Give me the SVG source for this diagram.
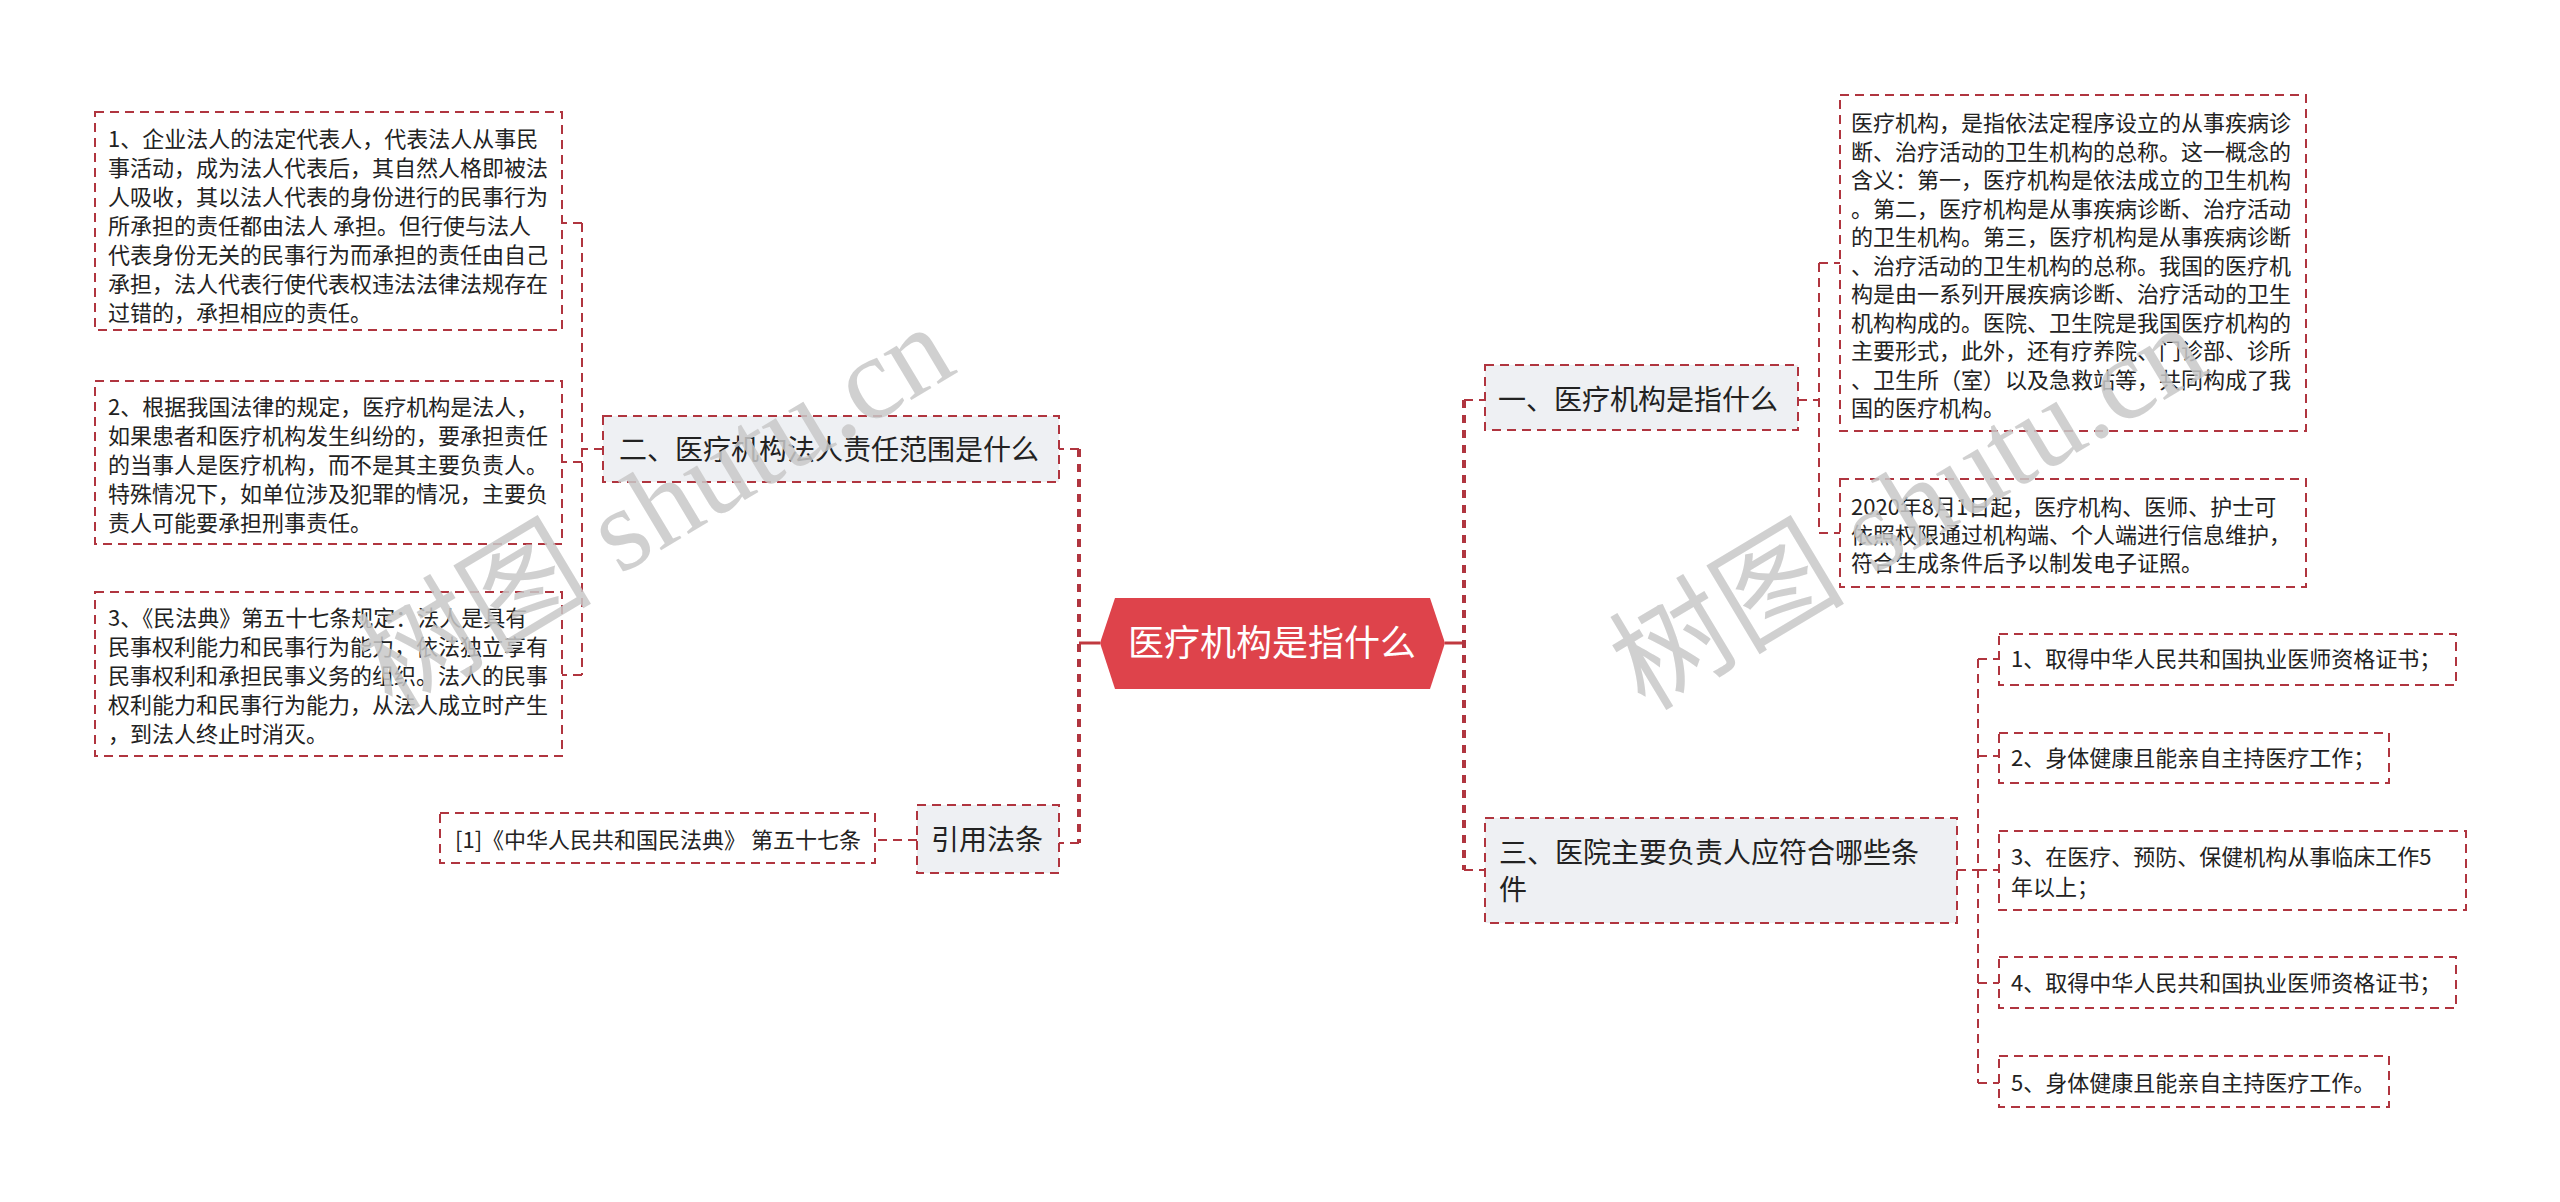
<svg xmlns="http://www.w3.org/2000/svg" width="2560" height="1202" viewBox="0 0 2560 1202">
<style>
.leaf{fill:#ffffff;stroke:#b0353f;stroke-width:2;stroke-dasharray:9 6}
.branch{fill:#eef0f3;stroke:#b0353f;stroke-width:2;stroke-dasharray:9 6}
.t{font-family:"Noto Sans CJK SC","Noto Sans",sans-serif;fill:#222222}
.lt{font-size:22px}
.bt{font-size:28px}
.ct{font-size:36px;fill:#ffffff}
.c{fill:none;stroke:#b0353f;stroke-width:2;stroke-dasharray:9 6}
.trunk{fill:none;stroke:#b0353f;stroke-width:4;stroke-dasharray:8 7}
.solid{fill:none;stroke:#c0393f;stroke-width:3}
.wm{font-family:"Liberation Serif","Noto Sans CJK SC",serif;font-size:118px;fill:#c8c8c8;fill-opacity:0.85}
</style>
<rect width="2560" height="1202" fill="#ffffff"/>
<g id="connectors">
<path class="solid" d="M1100 643H1079"/>
<path class="trunk" d="M1079 449V843"/>
<path class="c" d="M1079 449H1059M1079 843H1059"/>
<path class="c" d="M603 449H582M582 223V675M582 223H562M582 462H562M582 675H562"/>
<path class="c" d="M917 840H875"/>
<path class="solid" d="M1445 643H1464"/>
<path class="trunk" d="M1464 400V870"/>
<path class="c" d="M1464 400H1485M1464 870H1485"/>
<path class="c" d="M1798 400H1819M1819 263V533M1819 263H1840M1819 533H1840"/>
<path class="c" d="M1957 870H1978M1978 659V1083M1978 659H1999M1978 756H1999M1978 870H1999M1978 983H1999M1978 1083H1999"/>
</g>
<g id="center">
<polygon points="1115,598 1430,598 1445,643 1430,689 1115,689 1100,643" fill="#de434b"/>
<text class="t ct" x="1272" y="656" text-anchor="middle">医疗机构是指什么</text>
</g>
<g id="b2">
<rect class="branch" x="603" y="416" width="456" height="66"/>
<text class="t bt" x="619" y="460">二、医疗机构法人责任范围是什么</text>
</g>
<g id="b2-leaf1">
<rect class="leaf" x="95" y="112" width="467" height="218"/>
<text class="t lt" x="108" y="147">1、企业法人的法定代表人，代表法人从事民</text>
<text class="t lt" x="108" y="176">事活动，成为法人代表后，其自然人格即被法</text>
<text class="t lt" x="108" y="205">人吸收，其以法人代表的身份进行的民事行为</text>
<text class="t lt" x="108" y="234">所承担的责任都由法人 承担。但行使与法人</text>
<text class="t lt" x="108" y="263">代表身份无关的民事行为而承担的责任由自己</text>
<text class="t lt" x="108" y="292">承担，法人代表行使代表权违法法律法规存在</text>
<text class="t lt" x="108" y="321">过错的，承担相应的责任。</text>
</g>
<g id="b2-leaf2">
<rect class="leaf" x="95" y="381" width="467" height="163"/>
<text class="t lt" x="108" y="415">2、根据我国法律的规定，医疗机构是法人，</text>
<text class="t lt" x="108" y="444">如果患者和医疗机构发生纠纷的，要承担责任</text>
<text class="t lt" x="108" y="473">的当事人是医疗机构，而不是其主要负责人。</text>
<text class="t lt" x="108" y="502">特殊情况下，如单位涉及犯罪的情况，主要负</text>
<text class="t lt" x="108" y="531">责人可能要承担刑事责任。</text>
</g>
<g id="b2-leaf3">
<rect class="leaf" x="95" y="592" width="467" height="164"/>
<text class="t lt" x="108" y="626">3、《民法典》第五十七条规定：法人是具有</text>
<text class="t lt" x="108" y="655">民事权利能力和民事行为能力，依法独立享有</text>
<text class="t lt" x="108" y="684">民事权利和承担民事义务的组织。法人的民事</text>
<text class="t lt" x="108" y="713">权利能力和民事行为能力，从法人成立时产生</text>
<text class="t lt" x="108" y="742">，到法人终止时消灭。</text>
</g>
<g id="ref">
<rect class="branch" x="917" y="805" width="142" height="68"/>
<text class="t bt" x="931" y="850">引用法条</text>
</g>
<g id="ref-leaf">
<rect class="leaf" x="440" y="813" width="435" height="50"/>
<text class="t lt" x="455" y="848">[1]《中华人民共和国民法典》 第五十七条</text>
</g>
<g id="b1">
<rect class="branch" x="1485" y="365" width="313" height="65"/>
<text class="t bt" x="1498" y="410">一、医疗机构是指什么</text>
</g>
<g id="b1-leaf1">
<rect class="leaf" x="1840" y="95" width="466" height="336"/>
<text class="t lt" x="1851" y="131">医疗机构，是指依法定程序设立的从事疾病诊</text>
<text class="t lt" x="1851" y="159.5">断、治疗活动的卫生机构的总称。这一概念的</text>
<text class="t lt" x="1851" y="188">含义：第一，医疗机构是依法成立的卫生机构</text>
<text class="t lt" x="1851" y="216.5">。第二，医疗机构是从事疾病诊断、治疗活动</text>
<text class="t lt" x="1851" y="245">的卫生机构。第三，医疗机构是从事疾病诊断</text>
<text class="t lt" x="1851" y="273.5">、治疗活动的卫生机构的总称。我国的医疗机</text>
<text class="t lt" x="1851" y="302">构是由一系列开展疾病诊断、治疗活动的卫生</text>
<text class="t lt" x="1851" y="330.5">机构构成的。医院、卫生院是我国医疗机构的</text>
<text class="t lt" x="1851" y="359">主要形式，此外，还有疗养院、门诊部、诊所</text>
<text class="t lt" x="1851" y="387.5">、卫生所（室）以及急救站等，共同构成了我</text>
<text class="t lt" x="1851" y="416">国的医疗机构。</text>
</g>
<g id="b1-leaf2">
<rect class="leaf" x="1840" y="479" width="466" height="108"/>
<text class="t lt" x="1851" y="515">2020年8月1日起，医疗机构、医师、护士可</text>
<text class="t lt" x="1851" y="543">依照权限通过机构端、个人端进行信息维护，</text>
<text class="t lt" x="1851" y="571">符合生成条件后予以制发电子证照。</text>
</g>
<g id="b3">
<rect class="branch" x="1485" y="818" width="472" height="105"/>
<text class="t bt" x="1499" y="863">三、医院主要负责人应符合哪些条</text>
<text class="t bt" x="1499" y="900">件</text>
</g>
<g id="b3-leaf1">
<rect class="leaf" x="1999" y="634" width="457" height="51"/>
<text class="t lt" x="2011" y="667">1、取得中华人民共和国执业医师资格证书；</text>
</g>
<g id="b3-leaf2">
<rect class="leaf" x="1999" y="733" width="390" height="50"/>
<text class="t lt" x="2011" y="766">2、身体健康且能亲自主持医疗工作；</text>
</g>
<g id="b3-leaf3">
<rect class="leaf" x="1999" y="831" width="467" height="79"/>
<text class="t lt" x="2011" y="865">3、在医疗、预防、保健机构从事临床工作5</text>
<text class="t lt" x="2011" y="895">年以上；</text>
</g>
<g id="b3-leaf4">
<rect class="leaf" x="1999" y="957" width="457" height="51"/>
<text class="t lt" x="2011" y="991">4、取得中华人民共和国执业医师资格证书；</text>
</g>
<g id="b3-leaf5">
<rect class="leaf" x="1999" y="1056" width="390" height="51"/>
<text class="t lt" x="2011" y="1091">5、身体健康且能亲自主持医疗工作。</text>
</g>
<g id="watermark">
<text class="wm" x="392" y="712" transform="rotate(-31 392 712)">树图 shutu.cn</text>
<text class="wm" x="1645" y="712" transform="rotate(-31 1645 712)">树图 shutu.cn</text>
</g>
</svg>
